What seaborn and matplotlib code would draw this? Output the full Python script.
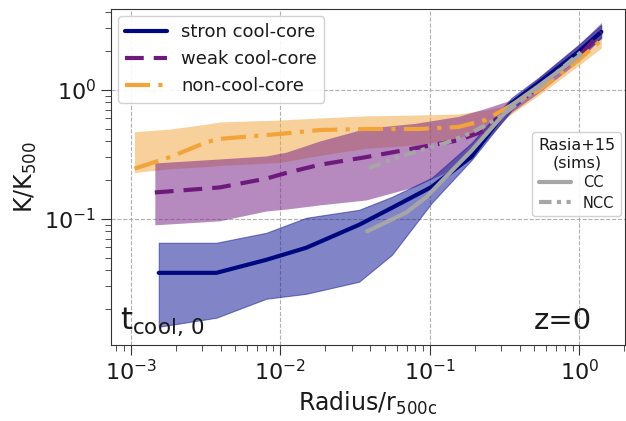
import numpy as np
import pandas as pd
import matplotlib
matplotlib.use("Agg")
import matplotlib.pyplot as plt
import seaborn as sns

# ---- data ----
r_scc = [0.00154, 0.00374, 0.00807, 0.0149, 0.0336, 0.0558, 0.103, 0.190, 0.352, 0.533, 0.985, 1.40]
k_scc = [0.0381, 0.0381, 0.0481, 0.0596, 0.0898, 0.1217, 0.177, 0.303, 0.79, 1.13, 1.97, 2.82]
k_scc_hi = [0.0652, 0.0652, 0.0779, 0.1018, 0.1174, 0.148, 0.208, 0.388, 0.867, 1.24, 2.23, 3.19]
k_scc_lo = [0.01455, 0.0171, 0.024, 0.0262, 0.0325, 0.0526, 0.133, 0.286, 0.70, 1.036, 1.80, 2.53]

r_wcc = [0.00145, 0.00392, 0.00807, 0.0110, 0.0182, 0.0375, 0.080, 0.155, 0.235, 0.352, 0.533, 0.985, 1.40]
k_wcc = [0.160, 0.175, 0.205, 0.227, 0.262, 0.301, 0.353, 0.406, 0.485, 0.76, 1.07, 1.80, 2.80]
k_wcc_hi = [0.271, 0.291, 0.307, 0.329, 0.400, 0.504, 0.550, 0.622, 0.718, 0.837, 1.24, 2.23, 3.33]
k_wcc_lo = [0.0898, 0.0964, 0.115, 0.119, 0.128, 0.140, 0.178, 0.254, 0.400, 0.670, 0.95, 1.66, 2.53]

r_ncc = [0.00106, 0.00185, 0.00325, 0.00396, 0.00993, 0.0183, 0.0375, 0.0844, 0.155, 0.235, 0.352, 0.533, 0.985, 1.40]
k_ncc = [0.245, 0.302, 0.395, 0.417, 0.455, 0.488, 0.497, 0.497, 0.515, 0.583, 0.760, 0.994, 1.70, 2.43]
k_ncc_hi = [0.473, 0.497, 0.543, 0.564, 0.583, 0.605, 0.628, 0.638, 0.650, 0.699, 0.760, 1.11, 1.95, 2.79]
k_ncc_lo = [0.228, 0.245, 0.254, 0.259, 0.273, 0.310, 0.352, 0.375, 0.424, 0.488, 0.650, 0.906, 1.54, 2.11]

r_rasia_cc = [0.0381, 0.0697, 0.095, 0.122, 0.190, 0.352, 0.533, 1.02]
k_rasia_cc = [0.080, 0.112, 0.148, 0.200, 0.338, 0.76, 1.07, 1.87]
r_rasia_ncc = [0.0392, 0.0621, 0.128, 0.190, 0.288, 0.533, 1.03]
k_rasia_ncc = [0.248, 0.303, 0.388, 0.464, 0.607, 1.036, 1.97]

labels = ["stron cool-core", "weak cool-core", "non-cool-core"]
rasia_labels = ["CC", "NCC"]

c_scc = "#00087f"
c_wcc = "#6e1a7c"
c_ncc = "#f2a33a"
c_grey = "#a6a6a6"

# ---- figure ----
sns.set_style("ticks")
plt.rcParams["font.family"] = ["DejaVu Sans"]
plt.rcParams["text.color"] = "#1a1a1a"
plt.rcParams["axes.labelcolor"] = "#1a1a1a"
plt.rcParams["xtick.color"] = "#1a1a1a"
plt.rcParams["ytick.color"] = "#1a1a1a"
fig = plt.figure(figsize=(6.26, 4.21), dpi=100)
ax = fig.add_axes([0.177, 0.181, 0.822, 0.798])

ax.fill_between(r_ncc, k_ncc_lo, k_ncc_hi, color=c_ncc, alpha=0.5, lw=0)
ax.fill_between(r_wcc, k_wcc_lo, k_wcc_hi, color="#7d2a8c", alpha=0.55, lw=0)
ax.fill_between(r_scc, k_scc_lo, k_scc_hi, color="#1a219a", alpha=0.55, lw=0.8,
                edgecolor="#1a219a")

sns.lineplot(x=r_scc, y=k_scc, ax=ax, color=c_scc, lw=3, label=labels[0])
sns.lineplot(x=r_wcc, y=k_wcc, ax=ax, color=c_wcc, lw=3, linestyle=(0, (4.5, 2.4)), label=labels[1])
sns.lineplot(x=r_ncc, y=k_ncc, ax=ax, color=c_ncc, lw=3, linestyle=(0, (6, 2, 1, 2)), label=labels[2])
l_cc, = ax.plot(r_rasia_cc, k_rasia_cc, color=c_grey, lw=3)
l_ncc, = ax.plot(r_rasia_ncc, k_rasia_ncc, color=c_grey, lw=3, linestyle=(0, (3, 1.3, 1, 1.3, 1, 1.3)))

ax.set_xscale("log")
ax.set_yscale("log")
ax.set_xlim(10 ** -3.133, 10 ** 0.307)
ax.set_ylim(10 ** -1.977, 10 ** 0.628)

ax.grid(True, which="major", ls="--", color="#b0b0b0", lw=0.8)
ax.tick_params(which="major", length=7, labelsize=16, color="#333333")
ax.tick_params(which="minor", length=4, color="#333333")
for s in ax.spines.values():
    s.set_color("#333333")

ax.set_xlabel("Radius/r$_{\\rm 500c}$", fontsize=17)
ax.set_ylabel("K/K$_{\\rm 500}$", fontsize=17)

h, l = ax.get_legend_handles_labels()
leg1 = ax.legend(h[:3], l[:3], loc="upper left", fontsize=13, handlelength=2.3,
                 borderaxespad=0.4, framealpha=0.9)
ax.add_artist(leg1)
leg2 = ax.legend([l_cc, l_ncc], rasia_labels, title="Rasia+15\n(sims)", loc="upper right",
                 bbox_to_anchor=(0.992, 0.633), borderaxespad=0.0, fontsize=10.5,
                 title_fontsize=11.5, labelspacing=0.35, handlelength=2.2, framealpha=0.9)
leg2.get_title().set_ha("center")

ax.text(0.018, 0.02, "t$_{\\rm cool,\\,0}$", transform=ax.transAxes, fontsize=22,
        ha="left", va="bottom")
ax.text(0.935, 0.03, "z=0", transform=ax.transAxes, fontsize=21, ha="right", va="bottom")

fig.savefig("out.png", dpi=100)
